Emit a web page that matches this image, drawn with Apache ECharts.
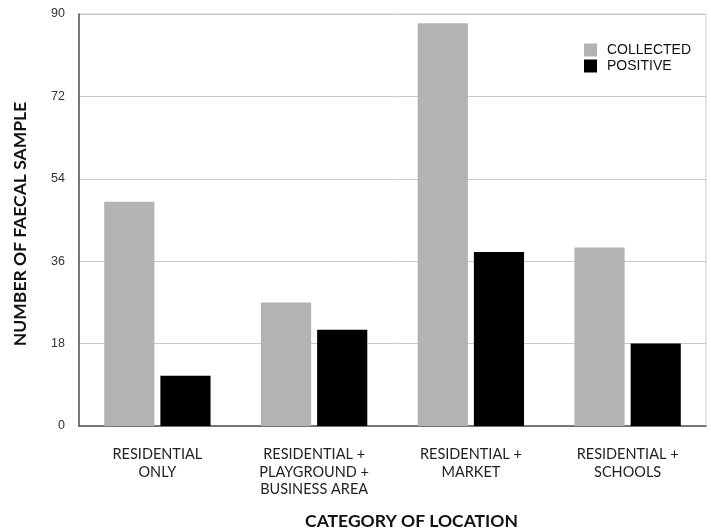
<!DOCTYPE html>
<html>
<head>
<meta charset="utf-8">
<script src="https://cdn.jsdelivr.net/npm/echarts@6/dist/echarts.min.js"></script>
<style>html,body{margin:0;padding:0;background:#fff;}#c{width:711px;height:529px;}</style>
</head>
<body>
<div id="c"></div>
<script>
var categories = ['RESIDENTIAL\nONLY', 'RESIDENTIAL +\nPLAYGROUND +\nBUSINESS AREA', 'RESIDENTIAL +\nMARKET', 'RESIDENTIAL +\nSCHOOLS'];
var collected = [49, 27, 88, 39];
var positive = [11, 21, 38, 18];
var yTicks = [0, 18, 36, 54, 72, 90];

var chart = echarts.init(document.getElementById('c'));
chart.setOption({
  animation: false,
  backgroundColor: '#fff',
  grid: { left: 79, right: 5, top: 14, bottom: 103, show: true, borderColor: '#d0d0d0', borderWidth: 1, outerBoundsMode: 'none', containLabel: false },
  legend: {
    orient: 'vertical', right: 20, top: 43, padding: 0, itemWidth: 13, itemHeight: 13, itemGap: 2,
    icon: 'rect', align: 'left',
    textStyle: { fontFamily: 'Liberation Sans', fontSize: 14, color: '#111', padding: [0, 0, 0, 5] },
    data: ['COLLECTED', 'POSITIVE']
  },
  xAxis: {
    type: 'category', data: categories,
    name: 'CATEGORY OF LOCATION', nameLocation: 'middle', nameGap: 86,
    nameTextStyle: { fontFamily: 'Lato', fontWeight: 'bold', fontSize: 17.5, color: '#111', padding: [0, 0, 0, 38] },
    axisLine: { lineStyle: { color: '#555', width: 1.5 } },
    axisTick: { show: false },
    axisLabel: { fontFamily: 'Lato', fontSize: 14.5, color: '#222', margin: 20, lineHeight: 17.5, interval: 0 }
  },
  yAxis: {
    type: 'value', min: yTicks[0], max: yTicks[yTicks.length - 1], interval: 18,
    name: 'NUMBER OF FAECAL SAMPLE', nameLocation: 'middle', nameGap: 50,
    nameTextStyle: { fontFamily: 'Lato', fontWeight: 'bold', fontSize: 17.5, color: '#111', padding: [0, 8, 0, 0] },
    axisLine: { show: true, lineStyle: { color: '#555', width: 1.5 } },
    axisTick: { show: false },
    axisLabel: { fontFamily: 'Liberation Sans', fontSize: 12.5, color: '#333', margin: 14 },
    splitLine: { lineStyle: { color: '#c8c8c8', width: 1 } }
  },
  series: [
    { name: 'COLLECTED', type: 'bar', data: collected, barWidth: '32%', barGap: '12%', itemStyle: { color: '#b3b3b3' } },
    { name: 'POSITIVE', type: 'bar', data: positive, barWidth: '32%', itemStyle: { color: '#000000' } }
  ]
});
</script>
</body>
</html>
